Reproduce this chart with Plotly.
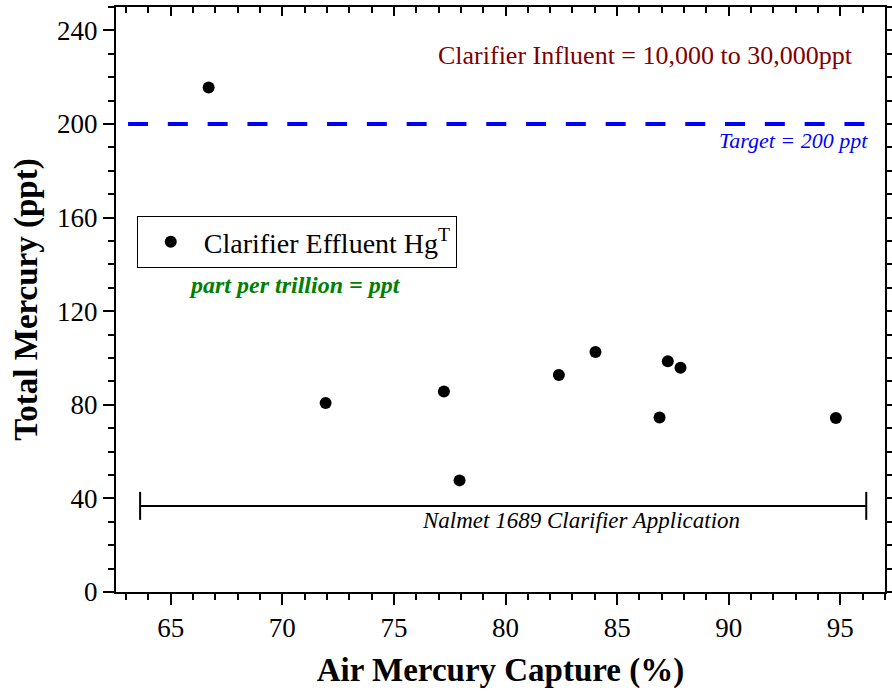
import plotly.graph_objects as go

# Data
capture_pct = [66.70, 71.94, 77.24, 77.94, 82.39, 84.03, 86.90, 87.27, 87.84, 94.80]
effluent_hg = [215.6, 80.8, 85.7, 47.7, 92.7, 102.6, 74.6, 98.6, 95.8, 74.4]

target_x = [63.09, 96.12]
target_y = [200, 200]

app_x = [63.63, 96.16]
app_y = [36.8, 36.8]

FONT = "Liberation Serif, Times New Roman, serif"

fig = go.Figure()

fig.add_trace(go.Scatter(
    x=target_x, y=target_y, mode="lines",
    line=dict(color="#0000ff", width=4, dash="20px,19.8px"),
    showlegend=False, hoverinfo="skip"))

fig.add_trace(go.Scatter(
    x=app_x, y=app_y, mode="lines+markers",
    line=dict(color="black", width=2),
    marker=dict(symbol="line-ns-open", size=20, line=dict(color="black", width=2)),
    showlegend=False, hoverinfo="skip"))

fig.add_trace(go.Scatter(
    x=capture_pct, y=effluent_hg, mode="markers",
    marker=dict(color="black", size=12),
    name="Clarifier Effluent Hg<sup>T</sup>"))

axis_common = dict(
    showline=True, linecolor="black", linewidth=2,
    showgrid=False, zeroline=False, automargin=False,
    tickcolor="black", tickwidth=2, ticklen=11,
    tickfont=dict(family=FONT, size=27, color="black"),
)

fig.update_layout(
    width=892, height=691,
    margin=dict(l=116, r=7, t=7, b=99),
    plot_bgcolor="white", paper_bgcolor="white",
    font=dict(family=FONT, color="black"),
    xaxis=dict(
        range=[62.55, 97.0], tick0=65, dtick=5, ticks="outside",
        minor=dict(dtick=1, ticks="outside", ticklen=6, tickwidth=2, tickcolor="black"),
        title=dict(text="<b>Air Mercury Capture (%)</b>", font=dict(family=FONT, size=33), standoff=15),
        **axis_common),
    xaxis2=dict(
        range=[62.55, 97.0], tick0=65, dtick=5, ticks="inside", overlaying="x", side="top",
        showticklabels=False, showline=True, linecolor="black", linewidth=2, automargin=False,
        showgrid=False, zeroline=False, tickcolor="black", tickwidth=2, ticklen=9,
        minor=dict(dtick=1, ticks="inside", ticklen=6, tickwidth=2, tickcolor="black")),
    yaxis=dict(
        range=[0, 250], tick0=0, dtick=40, ticks="outside", mirror="ticks",
        minor=dict(dtick=10, ticks="outside", ticklen=6, tickwidth=2, tickcolor="black"),
        title=dict(text="<b>Total Mercury (ppt)</b>", font=dict(family=FONT, size=33), standoff=10),
        **axis_common),
    legend=dict(
        x=0.027, y=0.6427, xanchor="left", yanchor="top",
        bordercolor="black", borderwidth=1, bgcolor="white", itemwidth=56,
        font=dict(family=FONT, size=28, color="black")),
    annotations=[
        dict(x=86.26, y=229.3, xref="x", yref="y", showarrow=False,
             text="Clarifier Influent = 10,000 to 30,000ppt",
             font=dict(family=FONT, size=26, color="#800000")),
        dict(x=96.32, y=193.0, xref="x", yref="y", showarrow=False, xanchor="right",
             text="<i>Target = 200 ppt</i>",
             font=dict(family=FONT, size=22, color="#0000ff")),
        dict(x=70.57, y=131.1, xref="x", yref="y", showarrow=False,
             text="<b><i>part per trillion = ppt</i></b>",
             font=dict(family=FONT, size=24, color="#008000")),
        dict(x=83.4, y=30.7, xref="x", yref="y", showarrow=False,
             text="<i>Nalmet 1689 Clarifier Application</i>",
             font=dict(family=FONT, size=23, color="black")),
    ],
)

# invisible trace to activate the top axis
fig.add_trace(go.Scatter(x=[65], y=[0], xaxis="x2", mode="markers",
                         marker=dict(opacity=0), showlegend=False, hoverinfo="skip"))

fig.write_html("out.html")
